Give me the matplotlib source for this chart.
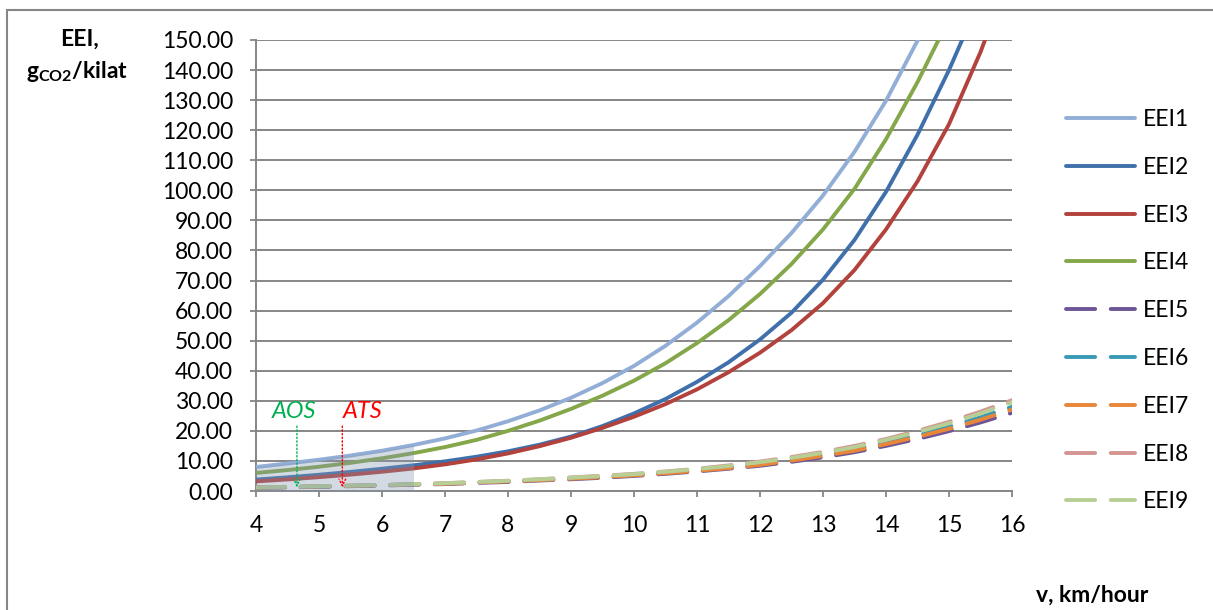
import numpy as np
import matplotlib
matplotlib.use("Agg")
import matplotlib.pyplot as plt
from matplotlib.patches import Rectangle

plt.rcParams['font.family'] = ['Lato', 'DejaVu Sans']
plt.rcParams['mathtext.fontset'] = 'custom'
plt.rcParams['mathtext.rm'] = 'Lato'
plt.rcParams['mathtext.bf'] = 'Lato:bold'
plt.rcParams['mathtext.it'] = 'Lato:italic'

# ------- dane -------
v = [4, 4.5, 5, 5.5, 6, 6.5, 7, 7.5, 8, 8.5, 9, 9.5, 10, 10.5, 11, 11.5,
     12, 12.5, 13, 13.5, 14, 14.5, 15, 15.5, 16]

eei1 = [8.0, 9.15, 10.4, 11.8, 13.4, 15.3, 17.5, 20.1, 23.2, 26.8, 31.0, 35.9, 41.6, 48.3, 56.0, 64.8,
        74.8, 85.8, 98.3, 112.8, 129.8, 149.8, 173.0, 199.0, 229.0]
eei2 = [3.8, 4.55, 5.4, 6.35, 7.4, 8.55, 9.85, 11.4, 13.2, 15.4, 18.1, 21.6, 25.8, 30.6, 36.3, 42.8,
        50.4, 59.3, 70.3, 83.5, 99.5, 118.5, 140.0, 164.0, 192.0]
eei3 = [3.2, 3.85, 4.6, 5.45, 6.4, 7.5, 8.85, 10.5, 12.5, 14.9, 17.7, 21.0, 24.7, 28.9, 33.8, 39.5,
        46.0, 53.5, 62.5, 73.5, 87.0, 103.0, 122.0, 146.0, 174.0]
eei4 = [6.0, 6.96, 8.07, 9.37, 10.87, 12.6, 14.6, 17.0, 20.0, 23.4, 27.3, 31.7, 36.7, 42.5, 49.2, 56.8,
        65.5, 75.5, 87.0, 100.5, 117.0, 136.0, 157.0, 182.0, 210.0]
eei5 = [1.1, 1.2, 1.4, 1.6, 1.8, 2.1, 2.3, 2.7, 3.0, 3.5, 3.9, 4.4, 5.0, 5.7, 6.5, 7.4,
        8.4, 9.7, 11.2, 12.9, 15.0, 17.3, 19.9, 22.8, 26.0]
eei6 = [1.1, 1.3, 1.5, 1.7, 1.9, 2.2, 2.5, 2.9, 3.3, 3.7, 4.2, 4.8, 5.3, 6.1, 6.9, 7.9,
        9.0, 10.4, 12.0, 13.8, 16.1, 18.6, 21.4, 24.5, 28.0]
eei7 = [1.1, 1.3, 1.5, 1.7, 1.9, 2.2, 2.4, 2.8, 3.2, 3.6, 4.1, 4.6, 5.2, 5.9, 6.7, 7.6,
        8.7, 10.1, 11.7, 13.4, 15.6, 18.0, 20.7, 23.7, 27.1]
eei8 = [1.2, 1.4, 1.6, 1.8, 2.0, 2.3, 2.6, 3.0, 3.4, 3.9, 4.5, 5.1, 5.7, 6.5, 7.4, 8.5,
        9.8, 11.3, 13.0, 15.0, 17.3, 20.0, 23.0, 26.4, 30.2]
eei9 = [1.2, 1.4, 1.6, 1.8, 2.0, 2.3, 2.6, 3.0, 3.4, 3.9, 4.4, 5.0, 5.6, 6.4, 7.3, 8.3,
        9.6, 11.0, 12.7, 14.6, 17.0, 19.6, 22.5, 25.8, 29.5]

labels = ['EEI1', 'EEI2', 'EEI3', 'EEI4', 'EEI5', 'EEI6', 'EEI7', 'EEI8', 'EEI9']
series = [eei1, eei2, eei3, eei4, eei5, eei6, eei7, eei8, eei9]
colors = ['#92aed6', '#3f70ac', '#b3413c', '#84a74a', '#6e5595',
          '#3a9ab5', '#e8873a', '#d49592', '#b7cf95']

shade_end = 6.5          # zakres zacieniowany
aos_x, ats_x = 4.65, 5.37

# ------- wykres -------
fig = plt.figure(figsize=(12.13, 6.10), dpi=100)
ax = fig.add_axes([256 / 1213, 119 / 610, 756 / 1213, 451 / 610])

for i, (y, c, lab) in enumerate(zip(series, colors, labels)):
    if i < 4:
        ax.plot(v, y, color=c, lw=2.8, label=lab, solid_capstyle='round',
                solid_joinstyle='round', zorder=3)
    else:
        ax.plot(v, y, color=c, lw=2.8, label=lab, dashes=(7.5, 4),
                dash_capstyle='round', zorder=3)

vv = np.array(v)
mask = vv <= shade_end
ax.fill_between(vv[mask], 0, np.array(eei1)[mask], color='#8497b0', alpha=0.35,
                lw=0, zorder=4)

ax.set_xlim(4, 16)
ax.set_ylim(0, 150)
ax.set_xticks(range(4, 17))
ax.set_yticks(np.arange(0, 151, 10))
ax.set_yticklabels([f"{t:.2f}" for t in np.arange(0, 151, 10)])
ax.tick_params(labelsize=16.5, colors='#868686', labelcolor='black', length=4.5, width=1.3)
ax.tick_params(axis='x', pad=13)
ax.tick_params(axis='y', pad=12)
ax.grid(axis='y', color='#868686', lw=1.4)
ax.set_axisbelow(True)
for s in ['top', 'right']:
    ax.spines[s].set_visible(False)
for s in ['left', 'bottom']:
    ax.spines[s].set_color('#868686')
    ax.spines[s].set_linewidth(1.4)

# AOS / ATS
ax.text(aos_x - 0.05, 26.3, 'AOS', color='#00b050', style='italic', fontsize=17,
        ha='center', va='center', zorder=6)
ax.text(ats_x + 0.33, 26.3, 'ATS', color='#ff0000', style='italic', fontsize=17,
        ha='center', va='center', zorder=6)
ax.annotate('', xy=(aos_x, 0.3), xytext=(aos_x, 22.5),
            arrowprops=dict(arrowstyle='->', color='#00b050', lw=1, ls=':',
                            mutation_scale=12), zorder=6)
ax.annotate('', xy=(ats_x, 0.3), xytext=(ats_x, 22.5),
            arrowprops=dict(arrowstyle='->', color='#ff0000', lw=1, ls=':',
                            mutation_scale=12), zorder=6)

# opisy osi
fig.text(79 / 1213, 1 - 39 / 610, 'EEI,', fontsize=16.5, fontweight='bold',
         ha='center', va='center')
fig.text(77 / 1213, 1 - 72 / 610, r'g$_{\mathbf{CO2}}$/kilat', fontsize=16.5,
         fontweight='bold', ha='center', va='center')
fig.text(1092 / 1213, 1 - 595 / 610, 'v, km/hour', fontsize=16.5, fontweight='bold',
         ha='center', va='center')

leg = fig.legend(loc='upper left', bbox_to_anchor=(1066 / 1213, 1 - 109 / 610),
                 frameon=False, fontsize=16.5, handlelength=3.0, handletextpad=0.35,
                 labelspacing=1.17, borderpad=0, borderaxespad=0)

# ramka wykresu
fig.patches.append(Rectangle((7 / 1213, -0.1), 1.2, 1.1 - 10 / 610, transform=fig.transFigure,
                             fill=False, edgecolor='#868686', lw=1.5, zorder=0))

fig.savefig('out.png', dpi=100)
